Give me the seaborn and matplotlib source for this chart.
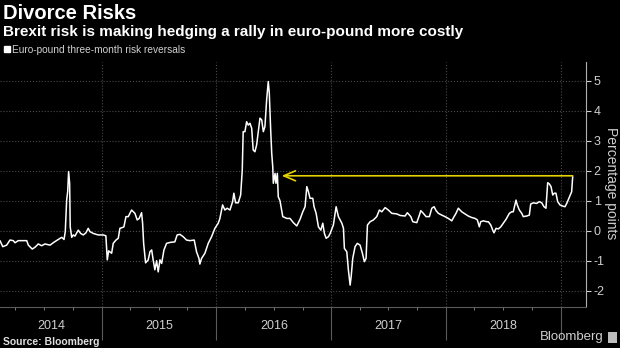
import numpy as np
import pandas as pd
import matplotlib
matplotlib.use("Agg")
import matplotlib.pyplot as plt
import matplotlib.dates as mdates
from matplotlib.lines import Line2D
from matplotlib.patches import Rectangle
from matplotlib.ticker import NullFormatter
import seaborn as sns

# ---------------- data ----------------
# time expressed as decimal year
dec_year = [
    2014.114, 2014.138, 2014.172, 2014.201, 2014.230, 2014.245, 2014.273, 2014.347,
    2014.361, 2014.395, 2014.419, 2014.448, 2014.477, 2014.506, 2014.550, 2014.578,
    2014.622, 2014.652, 2014.672, 2014.683, 2014.695, 2014.704, 2014.712, 2014.721,
    2014.726, 2014.739, 2014.753, 2014.767, 2014.796, 2014.817, 2014.840, 2014.863,
    2014.883, 2014.898, 2014.927, 2014.970, 2014.985, 2015.014, 2015.037, 2015.049,
    2015.061, 2015.087, 2015.101, 2015.125, 2015.145, 2015.159, 2015.183, 2015.194,
    2015.212, 2015.232, 2015.261, 2015.290, 2015.310, 2015.327, 2015.348, 2015.357,
    2015.366, 2015.383, 2015.406, 2015.421, 2015.436, 2015.449, 2015.464, 2015.479,
    2015.493, 2015.508, 2015.523, 2015.543, 2015.566, 2015.595, 2015.638, 2015.658,
    2015.682, 2015.711, 2015.740, 2015.769, 2015.807, 2015.827, 2015.848, 2015.856,
    2015.871, 2015.900, 2015.929, 2015.958, 2015.987, 2016.016, 2016.030, 2016.054,
    2016.074, 2016.094, 2016.118, 2016.141, 2016.152, 2016.167, 2016.190, 2016.211,
    2016.225, 2016.233, 2016.248, 2016.263, 2016.277, 2016.292, 2016.307, 2016.320,
    2016.335, 2016.350, 2016.364, 2016.379, 2016.394, 2016.408, 2016.422, 2016.437,
    2016.451, 2016.460, 2016.472, 2016.481, 2016.490, 2016.495, 2016.510, 2016.518,
    2016.530, 2016.538, 2016.553, 2016.577, 2016.612, 2016.640, 2016.669, 2016.699,
    2016.727, 2016.751, 2016.771, 2016.786, 2016.800, 2016.814, 2016.838, 2016.849,
    2016.867, 2016.887, 2016.908, 2016.925, 2016.939, 2016.954, 2016.974, 2016.989,
    2017.017, 2017.041, 2017.061, 2017.091, 2017.105, 2017.113, 2017.134, 2017.148,
    2017.163, 2017.172, 2017.186, 2017.206, 2017.226, 2017.250, 2017.270, 2017.287,
    2017.302, 2017.314, 2017.337, 2017.366, 2017.395, 2017.418, 2017.439, 2017.468,
    2017.496, 2017.526, 2017.570, 2017.598, 2017.642, 2017.662, 2017.692, 2017.709,
    2017.744, 2017.767, 2017.779, 2017.801, 2017.825, 2017.854, 2017.875, 2017.895,
    2017.912, 2017.932, 2017.962, 2017.990, 2018.019, 2018.049, 2018.069, 2018.086,
    2018.106, 2018.136, 2018.165, 2018.193, 2018.223, 2018.252, 2018.272, 2018.289,
    2018.301, 2018.324, 2018.354, 2018.368, 2018.389, 2018.406, 2018.417, 2018.435,
    2018.455, 2018.476, 2018.498, 2018.522, 2018.551, 2018.571, 2018.585, 2018.609,
    2018.620, 2018.638, 2018.659, 2018.672, 2018.702, 2018.725, 2018.737, 2018.760,
    2018.789, 2018.812, 2018.833, 2018.853, 2018.870, 2018.885, 2018.899, 2018.914,
    2018.929, 2018.943, 2018.957, 2018.972, 2018.992, 2019.016, 2019.036, 2019.051,
    2019.073, 2019.094, 2019.103,
]
risk_reversal = [
    -0.33, -0.53, -0.48, -0.31, -0.33, -0.40, -0.33, -0.33,
    -0.48, -0.61, -0.55, -0.44, -0.50, -0.44, -0.48, -0.40,
    -0.29, -0.22, -0.29, -0.03, 1.02, 1.30, 1.97, 1.58,
    0.13, -0.22, -0.14, -0.18, 0.02, -0.09, -0.14, -0.07,
    0.08, -0.03, -0.09, -0.14, -0.14, -0.14, -0.17, -0.97,
    -0.67, -0.75, -0.42, -0.31, -0.25, 0.08, 0.11, 0.13,
    0.47, 0.47, 0.69, 0.58, 0.36, 0.41, 0.60, 0.25,
    -0.42, -1.07, -0.97, -0.70, -0.64, -0.97, -1.30, -1.00,
    -1.37, -0.97, -1.09, -0.64, -0.42, -0.39, -0.37, -0.14,
    -0.12, -0.20, -0.31, -0.33, -0.31, -0.70, -0.92, -1.11,
    -0.92, -0.75, -0.42, -0.20, 0.08, 0.25, 0.40, 0.86,
    0.69, 0.75, 0.69, 0.97, 1.25, 0.93, 0.93, 1.19,
    2.02, 3.30, 3.30, 3.63, 3.52, 3.58, 3.41, 2.69,
    2.63, 2.86, 3.30, 3.75, 3.69, 3.30, 3.47, 4.36,
    4.97, 4.58, 3.36, 2.58, 2.13, 1.58, 1.91, 1.58,
    1.91, 1.13, 1.00, 0.47, 0.41, 0.41, 0.27, 0.16,
    0.38, 0.63, 0.80, 1.47, 1.30, 1.08, 1.08, 0.80,
    0.58, 0.13, 0.02, 0.25, -0.09, -0.25, -0.20, -0.09,
    0.19, 0.80, 0.47, 0.25, 0.08, -0.59, -0.70, -1.31,
    -1.81, -1.53, -0.92, -0.53, -0.42, -0.48, -0.75, -1.03,
    -0.92, 0.19, 0.30, 0.36, 0.47, 0.69, 0.63, 0.77,
    0.69, 0.58, 0.56, 0.51, 0.49, 0.60, 0.47, 0.30,
    0.27, 0.52, 0.67, 0.58, 0.47, 0.47, 0.75, 0.80,
    0.67, 0.58, 0.52, 0.47, 0.41, 0.33, 0.47, 0.58,
    0.75, 0.63, 0.56, 0.49, 0.44, 0.41, 0.36, 0.13,
    0.30, 0.33, 0.30, 0.30, 0.19, 0.02, -0.07, 0.08,
    0.06, 0.13, 0.25, 0.38, 0.58, 0.63, 0.63, 1.02,
    0.86, 0.69, 0.58, 0.47, 0.49, 0.52, 0.89, 0.93,
    0.91, 0.97, 0.93, 0.80, 0.75, 1.60, 1.56, 1.47,
    1.19, 1.25, 1.25, 0.97, 0.86, 0.82, 0.80, 0.91,
    1.11, 1.30, 1.80,
]
arrow_value = 1.83
arrow_start_year = 2019.103
arrow_tip_year = 2016.568
year_labels = ["2014", "2015", "2016", "2017", "2018"]
y_ticks = [-2, -1, 0, 1, 2, 3, 4, 5]

title = "Divorce Risks"
subtitle = "Brexit risk is making hedging a rally in euro-pound more costly"
series_name = "Euro-pound three-month risk reversals"
y_title = "Percentage points"
source = "Source: Bloomberg"


def dec_to_date(y):
    yr = int(np.floor(y))
    start = pd.Timestamp(yr, 1, 1)
    end = pd.Timestamp(yr + 1, 1, 1)
    return start + (end - start) * (y - yr)


df = pd.DataFrame({"date": [dec_to_date(v) for v in dec_year], "value": risk_reversal})

# ---------------- style ----------------
sns.set_theme(style="dark", rc={
    "axes.facecolor": "black",
    "figure.facecolor": "black",
    "savefig.facecolor": "black",
    "axes.unicode_minus": False,
})
plt.rcParams["font.family"] = ["Liberation Sans", "DejaVu Sans"]
plt.rcParams["axes.unicode_minus"] = False

W, H = 620, 348
fig = plt.figure(figsize=(W / 100, H / 100), dpi=100)
ax = fig.add_axes([0, 1 - 307 / H, 586 / W, (307 - 62) / H])
ax.set_facecolor("black")

sns.lineplot(data=df, x="date", y="value", color="white", linewidth=1.1, ax=ax, legend=False)

xmin, xmax = dec_to_date(2014.114), dec_to_date(2019.219)
ax.set_xlim(xmin, xmax)
ax.set_ylim(-2.54, 5.62)

# y axis on the right
ax.yaxis.tick_right()
ax.set_yticks(y_ticks)
ax.set_yticklabels([str(t) for t in y_ticks])
ax.tick_params(axis="y", colors="#cfcfcf", labelsize=9, length=3.5, width=0.8, pad=2,
               left=False, right=True)
ax.set_ylabel("")
ax.set_xlabel("")
fig.text(611 / W, 1 - 183 / H, y_title, rotation=270, color="#cfcfcf", fontsize=10,
         ha="center", va="center")

# x axis: year separators and quarter ticks
ax.xaxis.set_major_locator(mdates.YearLocator())
ax.xaxis.set_minor_locator(mdates.MonthLocator(bymonth=[4, 7, 10]))
ax.xaxis.set_major_formatter(NullFormatter())
ax.tick_params(axis="x", which="major", length=24, width=0.8, color="#5a5a5a", bottom=True)
ax.tick_params(axis="x", which="minor", length=2.5, width=0.7, color="#7a7a7a", bottom=True)

for lab in year_labels:
    y0 = int(lab)
    left = max(pd.Timestamp(y0, 1, 1), xmin)
    right = min(pd.Timestamp(y0 + 1, 1, 1), xmax)
    center = left + (right - left) / 2
    ax.annotate(lab, xy=(center, 0), xycoords=("data", "axes fraction"),
                xytext=(0, -14), textcoords="offset points",
                ha="center", va="center", color="#cfcfcf", fontsize=9)

ax.grid(True, which="major", axis="both", color="#4a4a4a", linestyle=":", linewidth=0.8)

for s in ["left", "top"]:
    ax.spines[s].set_visible(False)
ax.spines["right"].set_color("#b0b0b0")
ax.spines["right"].set_linewidth(0.8)
ax.spines["bottom"].set_color("#5a5a5a")
ax.spines["bottom"].set_linewidth(0.8)

# yellow arrow
ax.annotate("", xy=(dec_to_date(arrow_tip_year), arrow_value),
            xytext=(dec_to_date(arrow_start_year), arrow_value),
            arrowprops=dict(arrowstyle="->,head_length=0.7,head_width=0.3",
                            color="#e6d200", lw=1.2, shrinkA=0, shrinkB=0))

# texts
fig.text(3 / W, 1 - 4 / H, title, color="white", fontsize=14.5, fontweight="bold", va="top", ha="left")
fig.text(3 / W, 1 - 25 / H, subtitle, color="white", fontsize=11, fontweight="bold", va="top", ha="left")
fig.legend(handles=[Line2D([0], [0], marker="s", color="white", linestyle="", markersize=5)],
           labels=[series_name], loc="center left", bbox_to_anchor=(0.0, 1 - 50 / H),
           frameon=False, fontsize=7.3, labelcolor="#d0d0d0", handletextpad=0.1,
           borderaxespad=0.2, handlelength=0.9, borderpad=0)
fig.text(3 / W, 1 - 342 / H, source, color="#e0e0e0", fontsize=7.5, fontweight="bold", va="center", ha="left")
fig.text(604 / W, 1 - 337 / H, "Bloomberg", color="#cfcfcf", fontsize=9.5, va="center", ha="right")
fig.patches.append(Rectangle((608 / W, 1 - 343 / H), 9 / W, 11 / H, transform=fig.transFigure,
                             facecolor="#bdbdbd", edgecolor="none"))

fig.savefig("out.png", dpi=100, facecolor="black")
